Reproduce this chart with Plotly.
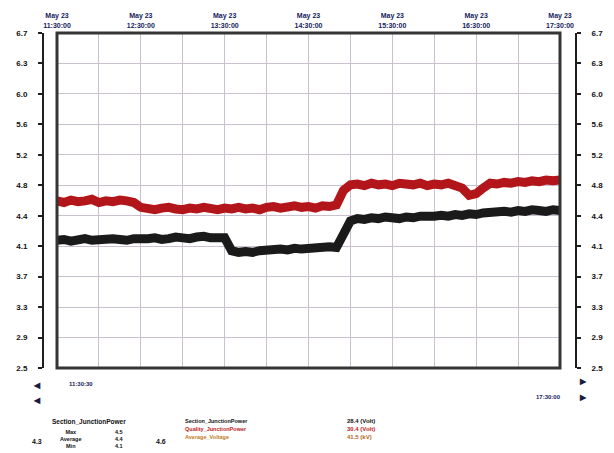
import pandas as pd
import plotly.graph_objects as go

# Sample times: every 5 minutes on May 23
TIMES = pd.date_range("2023-05-23 11:30", "2023-05-23 17:30", freq="5min")

# Red trace (Quality_JunctionPower, upper)
RED_VALUES = [
    4.63, 4.61, 4.64, 4.62, 4.63, 4.65, 4.61, 4.63, 4.62, 4.64, 4.63, 4.61,
    4.55, 4.53, 4.52, 4.54, 4.55, 4.53, 4.52, 4.54, 4.53, 4.55, 4.53, 4.52,
    4.54, 4.53, 4.55, 4.53, 4.54, 4.52, 4.55, 4.56, 4.54, 4.55, 4.57, 4.55,
    4.56, 4.54, 4.57, 4.56, 4.58,
    4.76, 4.83, 4.84, 4.82, 4.85, 4.83, 4.84, 4.82, 4.85, 4.84, 4.83, 4.85,
    4.82, 4.84, 4.83, 4.85, 4.82, 4.79, 4.70, 4.72, 4.79, 4.85, 4.84, 4.86,
    4.85, 4.87, 4.86, 4.88, 4.87, 4.89, 4.88, 4.89,
]

# Black trace (Section_JunctionPower, lower)
BLACK_VALUES = [
    4.14, 4.15, 4.13, 4.14, 4.16, 4.14, 4.15, 4.14, 4.16, 4.15, 4.14, 4.16,
    4.15, 4.16, 4.17, 4.15, 4.16, 4.18, 4.17, 4.16, 4.18, 4.19, 4.17, 4.18,
    4.17,
    4.01, 3.99, 4.00, 3.99, 4.01, 4.02, 4.01, 4.03, 4.02, 4.04, 4.03, 4.04,
    4.05, 4.04, 4.06, 4.05,
    4.22, 4.38, 4.41, 4.40, 4.42, 4.41, 4.43, 4.42, 4.41, 4.43, 4.42, 4.44,
    4.43, 4.44, 4.45, 4.44, 4.46, 4.45, 4.47, 4.46, 4.48, 4.49, 4.48, 4.50,
    4.49, 4.51, 4.50, 4.52, 4.51, 4.50, 4.52, 4.51,
]

# Value axis ticks and labels
Y_TICKS = [6.72, 6.341, 5.962, 5.583, 5.204, 4.825, 4.445, 4.066, 3.687, 3.308, 2.929, 2.55]
Y_LABELS = ["6.7", "6.3", "6.0", "5.6", "5.2", "4.8", "4.4", "4.1", "3.7", "3.3", "2.9", "2.5"]
Y_RANGE = [2.55, 6.72]

# Time axis labels (hourly)
X_TICKS = ["2023-05-23 11:30", "2023-05-23 12:30", "2023-05-23 13:30", "2023-05-23 14:30",
           "2023-05-23 15:30", "2023-05-23 16:30", "2023-05-23 17:30"]
X_LABELS = ["May 23<br>11:30:00", "May 23<br>12:30:00", "May 23<br>13:30:00", "May 23<br>14:30:00",
            "May 23<br>15:30:00", "May 23<br>16:30:00", "May 23<br>17:30:00"]
X_RANGE = ["2023-05-23 11:30", "2023-05-23 17:30"]

W, H = 614, 453
ML, MR, MT, MB = 43, 38, 33, 85
PW, PH = W - ML - MR, H - MT - MB
NAVY = "#141c5e"
FONT = "Liberation Sans"


def px(x):
    return (x - ML) / PW


def py(y):
    return (H - MB - y) / PH


def bold(items):
    return [f"<b>{t}</b>" for t in items]


fig = go.Figure()
fig.add_trace(go.Scatter(x=TIMES, y=RED_VALUES, mode="lines",
                         line=dict(color="#b3161a", width=9), xaxis="x", yaxis="y"))
fig.add_trace(go.Scatter(x=TIMES, y=BLACK_VALUES, mode="lines",
                         line=dict(color="#1a1a1a", width=9), xaxis="x", yaxis="y"))
# keeps the right-hand value axis drawn
fig.add_trace(go.Scatter(x=[TIMES[0]], y=[Y_RANGE[0]], mode="markers",
                         marker=dict(opacity=0), xaxis="x", yaxis="y2",
                         hoverinfo="skip"))

x0, x1 = px(57), px(560)
value_axis = dict(
    range=Y_RANGE, tickmode="array", tickvals=Y_TICKS, ticktext=bold(Y_LABELS),
    anchor="free", showline=True, linecolor="#1e1e1e", linewidth=2,
    ticks="outside", ticklen=4, tickwidth=2, tickcolor="#1e1e1e",
    ticklabelstandoff=9,
    tickfont=dict(size=8, color="#111", family=FONT), zeroline=False,
)
fig.update_layout(
    width=W, height=H, margin=dict(l=ML, r=MR, t=MT, b=MB),
    paper_bgcolor="white", plot_bgcolor="white", showlegend=False,
    font=dict(family=FONT, color="#111"),
    xaxis=dict(
        domain=[x0, x1], range=X_RANGE, side="top", anchor="y",
        tickmode="array", tickvals=X_TICKS, ticktext=bold(X_LABELS),
        tickfont=dict(size=7, color=NAVY, family=FONT), ticks="",
        ticklabelstandoff=3,
        showgrid=True, gridcolor="#c9c1cf", gridwidth=1,
        minor=dict(dtick=1800000, tick0="2023-05-23 11:30", showgrid=True,
                   gridcolor="#c9c1cf", gridwidth=1),
        showline=False, zeroline=False,
    ),
    yaxis=dict(value_axis, position=0, side="left",
               showgrid=True, gridcolor="#c9c1cf", gridwidth=1),
    yaxis2=dict(value_axis, overlaying="y", position=1, side="right",
                showgrid=False),
    shapes=[dict(type="rect", xref="x domain", yref="y domain",
                 x0=0, x1=1, y0=0, y1=1, line=dict(color="#353535", width=3))],
)


def note(x, y, text, size=7, color="#111", xanchor="center"):
    fig.add_annotation(x=px(x), y=py(y), xref="paper", yref="paper",
                       text=f"<b>{text}</b>", showarrow=False,
                       xanchor=xanchor, yanchor="middle",
                       font=dict(size=size, color=color, family=FONT))


# scroll controls and visible window bounds
note(37, 385, "◀", size=8, color="#1a1a40")
note(37, 400, "◀", size=8, color="#1a1a40")
note(583, 381, "▶", size=8, color="#1a1a40")
note(583, 397, "▶", size=8, color="#1a1a40")
note(67, 384, "11:30:30", size=6, color=NAVY, xanchor="left")
note(563, 397, "17:30:00", size=6, color=NAVY, xanchor="right")

# summary block
note(37, 441, "4.3", size=7)
note(50, 421, "Section_JunctionPower", size=6.5, xanchor="left")
note(58, 439, "Max<br>Average<br>Min", size=5.5, xanchor="left")
note(113, 439, "4.5<br>4.4<br>4.1", size=5.5, xanchor="left")
note(161, 441, "4.6", size=7)
note(183, 421, "Section_JunctionPower", size=5.5, xanchor="left")
note(183, 429, "Quality_JunctionPower", size=5.5, color="#c01a1a", xanchor="left")
note(183, 437, "Average_Voltage", size=5.5, color="#c27a1e", xanchor="left")
note(345, 421, "28.4 (Volt)", size=6, xanchor="left")
note(345, 429, "30.4 (Volt)", size=6, color="#c01a1a", xanchor="left")
note(345, 437, "41.5 (kV)", size=6, color="#b5661a", xanchor="left")

fig.write_html("out.html")
